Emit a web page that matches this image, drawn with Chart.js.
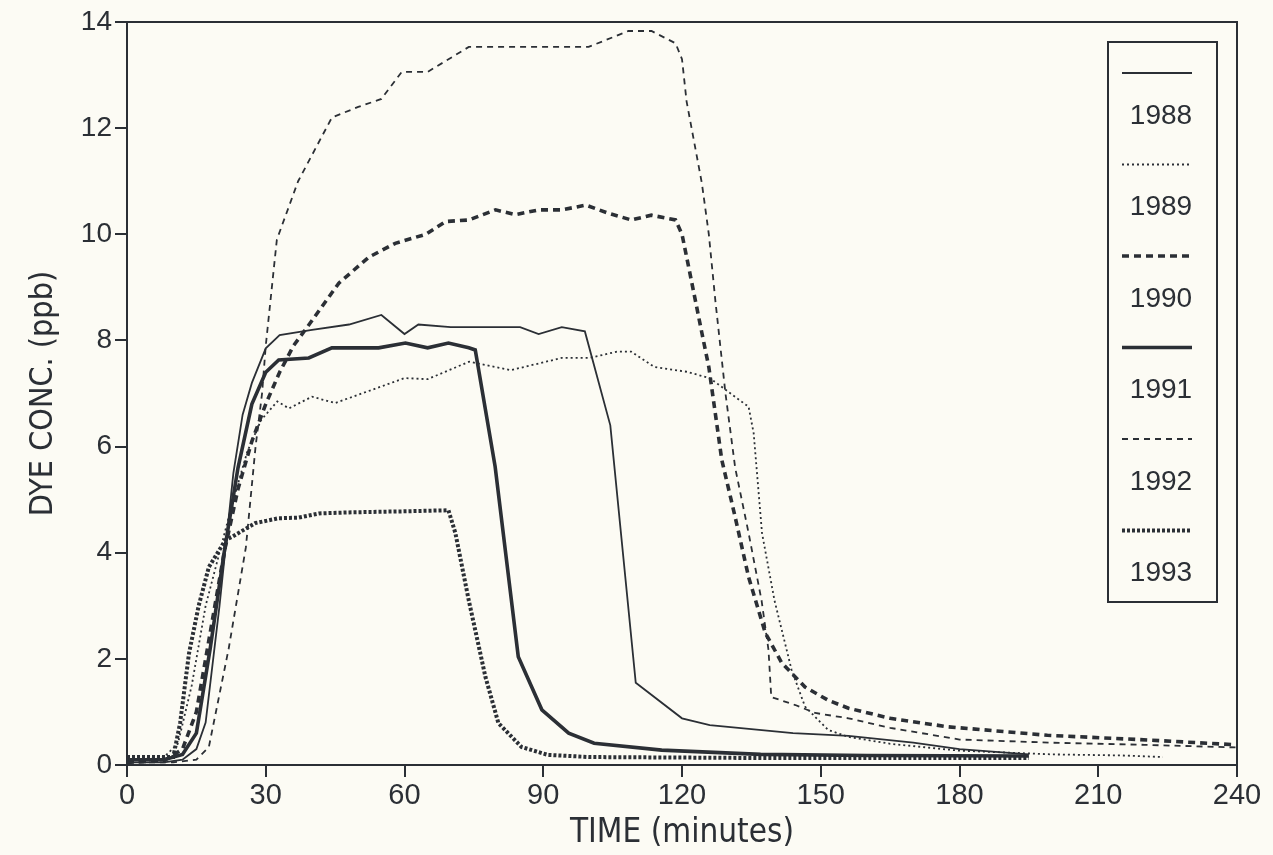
<!DOCTYPE html>
<html>
<head>
<meta charset="utf-8">
<script src="https://cdn.jsdelivr.net/npm/chart.js@4.4.1/dist/chart.umd.min.js"></script>
<style>
  html, body { margin: 0; padding: 0; background: #fcfbf4; }
</style>
</head>
<body>
<canvas id="dyeChart" width="1273" height="855"></canvas>
<script>
// tracer dye curves, one pair of arrays per year (minutes, ppb)
const t1988 = [0, 8, 12, 15, 17, 20, 23, 25, 27, 30, 33, 40, 48, 55, 60, 63, 70, 85, 89, 94, 99, 104.5, 110, 120, 126, 144, 156, 170, 180, 195];
const c1988 = [0.05, 0.05, 0.1, 0.3, 0.8, 3.0, 5.5, 6.6, 7.2, 7.85, 8.1, 8.2, 8.3, 8.48, 8.12, 8.3, 8.25, 8.25, 8.12, 8.25, 8.17, 6.4, 1.55, 0.88, 0.75, 0.6, 0.55, 0.42, 0.3, 0.2];

const t1989 = [0, 8, 11, 14, 17, 20, 23, 26, 29, 32.5, 35, 40, 45, 53, 60, 65, 74, 83, 94, 100, 106, 109, 114, 121, 126, 134.4, 135.5, 137.3, 140, 143.7, 146.6, 151.6, 156, 165, 180, 200, 215, 224];
const c1989 = [0.1, 0.15, 0.4, 1.5, 3.0, 4.0, 5.0, 5.9, 6.5, 6.85, 6.72, 6.94, 6.82, 7.07, 7.29, 7.27, 7.6, 7.44, 7.67, 7.67, 7.79, 7.79, 7.5, 7.41, 7.29, 6.75, 6.25, 4.37, 3.1, 1.79, 1.1, 0.66, 0.53, 0.4, 0.27, 0.2, 0.18, 0.15];

const t1990 = [0, 8, 12, 15, 18, 21, 24, 27, 30, 33, 36, 39.3, 45.8, 52.3, 58, 64.6, 68.9, 73.9, 79.7, 84, 89, 94, 99.2, 104, 109, 113.4, 118.6, 120, 121.4, 124.3, 125.8, 128.6, 131.5, 134.4, 138, 141.6, 146.6, 151.6, 156, 165, 177.5, 199, 221, 240];
const c1990 = [0.05, 0.08, 0.3, 1.0, 2.5, 4.0, 5.2, 6.1, 6.8, 7.4, 7.9, 8.29, 9.08, 9.57, 9.83, 10.0, 10.24, 10.27, 10.46, 10.37, 10.46, 10.46, 10.55, 10.4, 10.27, 10.36, 10.27, 10.0, 9.4, 8.14, 7.5, 5.75, 4.67, 3.54, 2.49, 1.92, 1.47, 1.22, 1.07, 0.88, 0.72, 0.56, 0.47, 0.38];

const t1991 = [0, 8, 12, 15, 18, 21, 24, 27, 30, 32.8, 39.3, 44.3, 54.4, 60.2, 65, 69.5, 73.9, 75.3, 79.6, 84.6, 89.7, 95.5, 101, 115.6, 137, 160, 195];
const c1991 = [0.1, 0.1, 0.2, 0.6, 2.2, 4.0, 5.6, 6.8, 7.4, 7.63, 7.67, 7.86, 7.86, 7.95, 7.86, 7.95, 7.86, 7.82, 5.62, 2.04, 1.04, 0.6, 0.41, 0.28, 0.2, 0.18, 0.17];

const t1992 = [0, 10, 15, 17.7, 22, 25.7, 27.8, 29.2, 30, 32.4, 37, 44.3, 50, 55, 59.4, 65, 73.9, 99.8, 108.4, 113.4, 118.6, 120, 121, 124.3, 125.8, 127.2, 129.4, 131.5, 134.4, 137.2, 138.7, 139.3, 144.5, 148.8, 156, 165, 180, 200, 220, 240];
const c1992 = [0.05, 0.05, 0.1, 0.34, 2.2, 4.1, 6.0, 7.0, 7.9, 9.9, 11.0, 12.2, 12.4, 12.55, 13.06, 13.06, 13.53, 13.53, 13.83, 13.83, 13.6, 13.3, 12.5, 10.96, 10.0, 8.76, 7.0, 5.6, 4.37, 3.1, 2.17, 1.28, 1.13, 0.98, 0.88, 0.7, 0.48, 0.42, 0.38, 0.33];

const t1993 = [0, 8, 10, 11.5, 13.4, 15.5, 17.7, 21.3, 22.7, 27.8, 32.8, 37, 41.5, 48, 60, 69.5, 71, 73.9, 77.5, 80.3, 85.3, 91, 100, 140, 195];
const c1993 = [0.15, 0.15, 0.15, 0.8, 2.1, 3.0, 3.73, 4.24, 4.3, 4.56, 4.65, 4.66, 4.74, 4.76, 4.78, 4.8, 4.37, 3.1, 1.66, 0.79, 0.34, 0.19, 0.15, 0.13, 0.13];

const years = ["1988", "1989", "1990", "1991", "1992", "1993"];
const xTicks = [0, 30, 60, 90, 120, 150, 180, 210, 240];
const yTicks = [0, 2, 4, 6, 8, 10, 12, 14];

const ink = "#2b2f35";
const sans = "'Liberation Sans', Arial, sans-serif";
const narrow = "'Liberation Sans Narrow', 'DejaVu Sans Condensed', 'Liberation Sans', sans-serif";

const styles = {
  "1988": { width: 1.8, dash: [] },
  "1989": { width: 1.8, dash: [2, 3] },
  "1990": { width: 3.6, dash: [7, 5] },
  "1991": { width: 3.6, dash: [] },
  "1992": { width: 1.8, dash: [6, 5] },
  "1993": { width: 4, dash: [3, 2] },
};

function pts(t, c) {
  return t.map((x, i) => ({ x: x, y: c[i] }));
}

const seriesData = {
  "1988": pts(t1988, c1988),
  "1989": pts(t1989, c1989),
  "1990": pts(t1990, c1990),
  "1991": pts(t1991, c1991),
  "1992": pts(t1992, c1992),
  "1993": pts(t1993, c1993),
};

// frame around the plot + boxed legend (line sample above each year)
const frameLegend = {
  id: "frameLegend",
  beforeDatasetsDraw(chart) {
    const { ctx, chartArea: a } = chart;
    ctx.save();
    ctx.strokeStyle = ink;
    ctx.lineWidth = 2;
    ctx.strokeRect(a.left, a.top, a.right - a.left, a.bottom - a.top);
    ctx.restore();
  },
  afterDatasetsDraw(chart) {
    const { ctx, chartArea: a } = chart;
    const bx = a.right - 129, by = a.top + 20, bw = 109, bh = 560;
    ctx.save();
    ctx.fillStyle = "#fcfbf4";
    ctx.fillRect(bx, by, bw, bh);
    ctx.strokeStyle = ink;
    ctx.lineWidth = 2;
    ctx.strokeRect(bx, by, bw, bh);
    ctx.font = "28px " + sans;
    ctx.fillStyle = ink;
    ctx.textAlign = "center";
    ctx.textBaseline = "middle";
    years.forEach((yr, i) => {
      const ly = by + 31 + i * 91.5;
      ctx.beginPath();
      ctx.setLineDash(styles[yr].dash);
      ctx.lineWidth = styles[yr].width;
      ctx.moveTo(bx + 14, ly);
      ctx.lineTo(bx + 84, ly);
      ctx.stroke();
      ctx.setLineDash([]);
      ctx.fillText(yr, bx + 53, ly + 43);
    });
    ctx.restore();
  },
};

new Chart(document.getElementById("dyeChart"), {
  type: "line",
  data: {
    datasets: years.map((yr) => ({
      label: yr,
      data: seriesData[yr],
      borderColor: ink,
      backgroundColor: ink,
      borderWidth: styles[yr].width,
      borderDash: styles[yr].dash,
      pointRadius: 0,
      tension: 0,
      fill: false,
    })),
  },
  options: {
    responsive: false,
    animation: false,
    layout: { padding: { top: 22, right: 36, left: 0, bottom: 0 } },
    plugins: {
      legend: { display: false },
      tooltip: { enabled: false },
    },
    scales: {
      x: {
        type: "linear",
        min: 0,
        max: 240,
        afterFit: (s) => { s.height = 90; },
        afterBuildTicks: (s) => { s.ticks = xTicks.map((v) => ({ value: v })); },
        ticks: {
          color: ink,
          padding: 4,
          maxRotation: 0,
          font: { family: sans, size: 29, lineHeight: 1 },
        },
        grid: { drawOnChartArea: false, color: ink, lineWidth: 2, tickLength: 12 },
        border: { color: ink, width: 2 },
        title: {
          display: true,
          text: "TIME (minutes)",
          color: ink,
          font: { family: narrow, size: 33 },
          padding: { bottom: 2 },
        },
      },
      y: {
        min: 0,
        max: 14,
        afterFit: (s) => { s.width = 127; },
        afterBuildTicks: (s) => { s.ticks = yTicks.map((v) => ({ value: v })); },
        ticks: {
          color: ink,
          padding: 3,
          font: { family: sans, size: 28 },
        },
        grid: { drawOnChartArea: false, color: ink, lineWidth: 2, tickLength: 12 },
        border: { color: ink, width: 2 },
        title: {
          display: true,
          text: "DYE CONC. (ppb)",
          color: ink,
          font: { family: narrow, size: 32 },
          padding: { top: 24 },
        },
      },
    },
  },
  plugins: [frameLegend],
});
</script>
</body>
</html>
